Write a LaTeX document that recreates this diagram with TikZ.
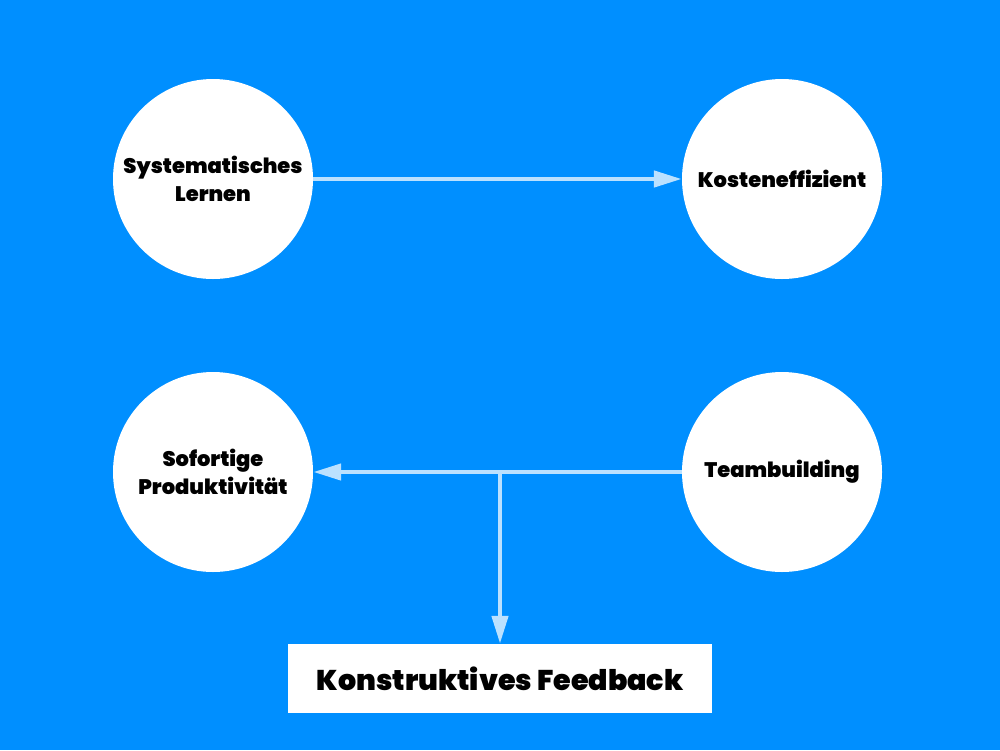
\documentclass[tikz,border=0pt]{standalone}
\usepackage{fontspec}
\IfFontExistsTF{Poppins Black}{\setmainfont{Poppins}[BoldFont={Poppins Black}]}{\setmainfont{DejaVu Sans}}
\usetikzlibrary{arrows.meta}
\definecolor{bg}{HTML}{008FFF}
\definecolor{arr}{HTML}{BBE1FF}
\begin{document}
\begin{tikzpicture}[x=1pt,y=-1pt,
  circ/.style={circle,fill=white,minimum size=200pt,inner sep=0pt,align=center,font=\fontsize{21}{28}\selectfont\bfseries},
  conn/.style={draw=arr,line width=4.5pt,-{Triangle[length=28pt,width=16pt]}}]
\fill[bg] (0,0) rectangle (1000,750);
\useasboundingbox (0,0) rectangle (1000,750);
\node[circ] (sl) at (213,179) {Systematisches\\Lernen};
\node[circ] (ke) at (782,179) {Kosteneffizient};
\node[circ] (sp) at (213,472) {Sofortige\\Produktivität};
\node[circ] (tb) at (782,472) {Teambuilding};
\node[fill=white,minimum width=424pt,minimum height=69pt,inner sep=0pt,font=\fontsize{28.5}{32}\selectfont\bfseries] (kf) at (500,678.5) {Konstruktives Feedback};
\coordinate (j) at (500,471);
\draw[conn] (sl.east) -- (ke.west);
\draw[conn] (tb.west) -- (sp.east);
\draw[conn] (j) -- (kf.north);
\end{tikzpicture}
\end{document}
